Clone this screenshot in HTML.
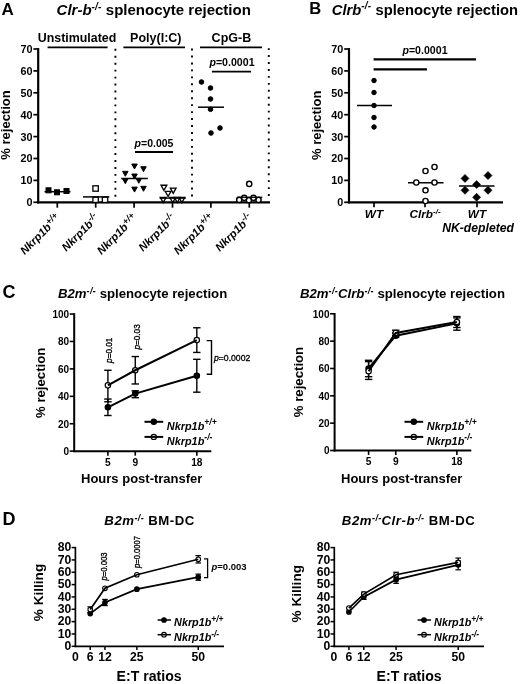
<!DOCTYPE html>
<html><head><meta charset="utf-8"><title>Figure</title>
<style>html,body{margin:0;padding:0;background:#fff;overflow:hidden}svg{display:block;will-change:transform}text{font-family:"Liberation Sans",sans-serif;fill:#000}</style>
</head><body>
<svg width="520" height="684" viewBox="0 0 520 684">
<rect width="520" height="684" fill="#fff"/>
<text x="1.6" y="15.3" font-size="17" font-weight="bold" text-anchor="start" >A</text>
<text x="56.6" y="15.4" font-size="15" font-weight="bold" text-anchor="start" ><tspan font-style="italic">Clr-b</tspan><tspan font-size="10" dy="-5.3" letter-spacing="0.2" font-style="italic">-/-</tspan><tspan dy="5.3" font-size="1">&#8203;</tspan><tspan> splenocyte rejection</tspan></text>
<text x="77" y="41.9" font-size="12.4" font-weight="bold" text-anchor="middle" >Unstimulated</text>
<text x="155.8" y="41.9" font-size="12.5" font-weight="bold" text-anchor="middle" >Poly(I:C)</text>
<text x="231.4" y="41.9" font-size="12.5" font-weight="bold" text-anchor="middle" >CpG-B</text>
<line x1="47.6" y1="47.45" x2="107.6" y2="47.45" stroke="#000" stroke-width="1.75" />
<line x1="123.4" y1="47.45" x2="185" y2="47.45" stroke="#000" stroke-width="1.75" />
<line x1="200" y1="47.45" x2="262" y2="47.45" stroke="#000" stroke-width="1.75" />
<line x1="115.4" y1="48.85" x2="115.4" y2="200" stroke="#000" stroke-width="1.9" stroke-dasharray="1.9 5.05"/>
<line x1="192" y1="48.6" x2="192" y2="200" stroke="#000" stroke-width="1.9" stroke-dasharray="1.9 5.05"/>
<line x1="268.8" y1="48.15" x2="268.8" y2="200" stroke="#000" stroke-width="1.9" stroke-dasharray="1.9 5.05"/>
<line x1="38.2" y1="48.10000000000003" x2="38.2" y2="203.4" stroke="#000" stroke-width="2.2" />
<line x1="37.1" y1="202.3" x2="270" y2="202.3" stroke="#000" stroke-width="2.2" />
<line x1="33.400000000000006" y1="202.3" x2="38.2" y2="202.3" stroke="#000" stroke-width="1.7" />
<text x="32.400000000000006" y="206.20000000000002" font-size="10.8" font-weight="bold" text-anchor="end" >0</text>
<line x1="33.400000000000006" y1="180.4" x2="38.2" y2="180.4" stroke="#000" stroke-width="1.7" />
<text x="32.400000000000006" y="184.3" font-size="10.8" font-weight="bold" text-anchor="end" >10</text>
<line x1="33.400000000000006" y1="158.5" x2="38.2" y2="158.5" stroke="#000" stroke-width="1.7" />
<text x="32.400000000000006" y="162.4" font-size="10.8" font-weight="bold" text-anchor="end" >20</text>
<line x1="33.400000000000006" y1="136.60000000000002" x2="38.2" y2="136.60000000000002" stroke="#000" stroke-width="1.7" />
<text x="32.400000000000006" y="140.50000000000003" font-size="10.8" font-weight="bold" text-anchor="end" >30</text>
<line x1="33.400000000000006" y1="114.70000000000002" x2="38.2" y2="114.70000000000002" stroke="#000" stroke-width="1.7" />
<text x="32.400000000000006" y="118.60000000000002" font-size="10.8" font-weight="bold" text-anchor="end" >40</text>
<line x1="33.400000000000006" y1="92.80000000000001" x2="38.2" y2="92.80000000000001" stroke="#000" stroke-width="1.7" />
<text x="32.400000000000006" y="96.70000000000002" font-size="10.8" font-weight="bold" text-anchor="end" >50</text>
<line x1="33.400000000000006" y1="70.9" x2="38.2" y2="70.9" stroke="#000" stroke-width="1.7" />
<text x="32.400000000000006" y="74.80000000000001" font-size="10.8" font-weight="bold" text-anchor="end" >60</text>
<line x1="33.400000000000006" y1="49.00000000000003" x2="38.2" y2="49.00000000000003" stroke="#000" stroke-width="1.7" />
<text x="32.400000000000006" y="52.90000000000003" font-size="10.8" font-weight="bold" text-anchor="end" >70</text>
<text x="9.8" y="125" font-size="13" font-weight="bold" text-anchor="middle" transform="rotate(-90 9.8 125)" >% rejection</text>
<line x1="57.3" y1="202.3" x2="57.3" y2="207.70000000000002" stroke="#000" stroke-width="1.7" />
<text x="61.099999999999994" y="218.8" font-size="11.2" font-weight="bold" font-style="italic" text-anchor="end" transform="rotate(-45 61.099999999999994 218.8)" >Nkrp1b<tspan font-size="9" dy="-4" letter-spacing="0" font-style="italic">+/+</tspan><tspan dy="4" font-size="1">&#8203;</tspan></text>
<line x1="95.69999999999999" y1="202.3" x2="95.69999999999999" y2="207.70000000000002" stroke="#000" stroke-width="1.7" />
<text x="99.49999999999999" y="218.8" font-size="11.2" font-weight="bold" font-style="italic" text-anchor="end" transform="rotate(-45 99.49999999999999 218.8)" >Nkrp1b<tspan font-size="9" dy="-4" letter-spacing="0" font-style="italic">-/-</tspan><tspan dy="4" font-size="1">&#8203;</tspan></text>
<line x1="134.1" y1="202.3" x2="134.1" y2="207.70000000000002" stroke="#000" stroke-width="1.7" />
<text x="137.9" y="218.8" font-size="11.2" font-weight="bold" font-style="italic" text-anchor="end" transform="rotate(-45 137.9 218.8)" >Nkrp1b<tspan font-size="9" dy="-4" letter-spacing="0" font-style="italic">+/+</tspan><tspan dy="4" font-size="1">&#8203;</tspan></text>
<line x1="172.5" y1="202.3" x2="172.5" y2="207.70000000000002" stroke="#000" stroke-width="1.7" />
<text x="176.3" y="218.8" font-size="11.2" font-weight="bold" font-style="italic" text-anchor="end" transform="rotate(-45 176.3 218.8)" >Nkrp1b<tspan font-size="9" dy="-4" letter-spacing="0" font-style="italic">-/-</tspan><tspan dy="4" font-size="1">&#8203;</tspan></text>
<line x1="210.89999999999998" y1="202.3" x2="210.89999999999998" y2="207.70000000000002" stroke="#000" stroke-width="1.7" />
<text x="214.7" y="218.8" font-size="11.2" font-weight="bold" font-style="italic" text-anchor="end" transform="rotate(-45 214.7 218.8)" >Nkrp1b<tspan font-size="9" dy="-4" letter-spacing="0" font-style="italic">+/+</tspan><tspan dy="4" font-size="1">&#8203;</tspan></text>
<line x1="249.3" y1="202.3" x2="249.3" y2="207.70000000000002" stroke="#000" stroke-width="1.7" />
<text x="253.10000000000002" y="218.8" font-size="11.2" font-weight="bold" font-style="italic" text-anchor="end" transform="rotate(-45 253.10000000000002 218.8)" >Nkrp1b<tspan font-size="9" dy="-4" letter-spacing="0" font-style="italic">-/-</tspan><tspan dy="4" font-size="1">&#8203;</tspan></text>
<rect x="46.00" y="187.80" width="5" height="5" fill="#000" stroke="#000" stroke-width="1"/>
<rect x="54.50" y="189.80" width="5" height="5" fill="#000" stroke="#000" stroke-width="1"/>
<rect x="64.00" y="188.50" width="5" height="5" fill="#000" stroke="#000" stroke-width="1"/>
<line x1="44.5" y1="191.7" x2="70.5" y2="191.7" stroke="#000" stroke-width="1.5" />
<rect x="92.90" y="185.80" width="5.4" height="5.4" fill="#fff" stroke="#000" stroke-width="1.3"/>
<rect x="92.90" y="197.10" width="5.4" height="5.4" fill="#fff" stroke="#000" stroke-width="1.3"/>
<rect x="102.30" y="197.10" width="5.4" height="5.4" fill="#fff" stroke="#000" stroke-width="1.3"/>
<line x1="83" y1="196.9" x2="109.3" y2="196.9" stroke="#000" stroke-width="1.5" />
<path d="M131.75 164.03L137.25 164.03L134.50 168.97Z" fill="#000" stroke="#000" stroke-width="1"/>
<path d="M140.75 166.72L146.25 166.72L143.50 171.67Z" fill="#000" stroke="#000" stroke-width="1"/>
<path d="M122.55 171.33L128.05 171.33L125.30 176.28Z" fill="#000" stroke="#000" stroke-width="1"/>
<path d="M131.75 174.03L137.25 174.03L134.50 178.97Z" fill="#000" stroke="#000" stroke-width="1"/>
<path d="M122.55 178.72L128.05 178.72L125.30 183.67Z" fill="#000" stroke="#000" stroke-width="1"/>
<path d="M136.05 178.33L141.55 178.33L138.80 183.28Z" fill="#000" stroke="#000" stroke-width="1"/>
<path d="M131.75 187.12L137.25 187.12L134.50 192.07Z" fill="#000" stroke="#000" stroke-width="1"/>
<path d="M140.75 186.33L146.25 186.33L143.50 191.28Z" fill="#000" stroke="#000" stroke-width="1"/>
<line x1="121.2" y1="178.5" x2="147.8" y2="178.5" stroke="#000" stroke-width="1.5" />
<path d="M161.05 185.24L166.75 185.24L163.90 190.37Z" fill="#fff" stroke="#000" stroke-width="1.35"/>
<path d="M170.35 188.13L176.05 188.13L173.20 193.26Z" fill="#fff" stroke="#000" stroke-width="1.35"/>
<path d="M165.25 191.34L170.95 191.34L168.10 196.47Z" fill="#fff" stroke="#000" stroke-width="1.35"/>
<path d="M160.35 197.53L166.05 197.53L163.20 202.66Z" fill="#fff" stroke="#000" stroke-width="1.35"/>
<path d="M169.85 197.53L175.55 197.53L172.70 202.66Z" fill="#fff" stroke="#000" stroke-width="1.35"/>
<path d="M174.45 197.53L180.15 197.53L177.30 202.66Z" fill="#fff" stroke="#000" stroke-width="1.35"/>
<path d="M179.05 197.53L184.75 197.53L181.90 202.66Z" fill="#fff" stroke="#000" stroke-width="1.35"/>
<line x1="159.6" y1="198.1" x2="185.8" y2="198.1" stroke="#000" stroke-width="1.4" />
<line x1="135" y1="152" x2="173" y2="152" stroke="#000" stroke-width="1.8" />
<text x="154" y="147" font-size="10.5" font-weight="bold" text-anchor="middle" ><tspan font-style="italic">p</tspan>=0.005</text>
<circle cx="201.5" cy="82" r="2.3" fill="#000" stroke="#000" stroke-width="1"/>
<circle cx="210.5" cy="88" r="2.3" fill="#000" stroke="#000" stroke-width="1"/>
<circle cx="210.5" cy="99" r="2.3" fill="#000" stroke="#000" stroke-width="1"/>
<circle cx="210.5" cy="109.3" r="2.3" fill="#000" stroke="#000" stroke-width="1"/>
<circle cx="211" cy="133" r="2.3" fill="#000" stroke="#000" stroke-width="1"/>
<circle cx="220" cy="128" r="2.3" fill="#000" stroke="#000" stroke-width="1"/>
<line x1="198" y1="107.2" x2="224" y2="107.2" stroke="#000" stroke-width="1.5" />
<circle cx="249.2" cy="183.9" r="2.6" fill="#fff" stroke="#000" stroke-width="1.45"/>
<circle cx="239.2" cy="199.9" r="2.6" fill="#fff" stroke="#000" stroke-width="1.45"/>
<circle cx="258.5" cy="199.9" r="2.6" fill="#fff" stroke="#000" stroke-width="1.45"/>
<circle cx="248.9" cy="200.2" r="2.6" fill="#fff" stroke="#000" stroke-width="1.45"/>
<circle cx="244.2" cy="197.8" r="2.6" fill="#fff" stroke="#000" stroke-width="1.45"/>
<circle cx="253.5" cy="197.8" r="2.6" fill="#fff" stroke="#000" stroke-width="1.45"/>
<line x1="236.9" y1="197.3" x2="262.3" y2="197.3" stroke="#000" stroke-width="1.3" />
<line x1="212" y1="71.6" x2="251" y2="71.6" stroke="#000" stroke-width="1.9" />
<text x="232" y="66.2" font-size="10.6" font-weight="bold" text-anchor="middle" ><tspan font-style="italic">p</tspan>=0.0001</text>
<text x="309.3" y="14.2" font-size="16.6" font-weight="bold" text-anchor="start" >B</text>
<text x="331.8" y="14.5" font-size="14.75" font-weight="bold" text-anchor="start" ><tspan font-style="italic">Clrb</tspan><tspan font-size="10" dy="-5.3" letter-spacing="0.2" font-style="italic">-/-</tspan><tspan dy="5.3" font-size="1">&#8203;</tspan><tspan> splenocyte rejection</tspan></text>
<line x1="349" y1="48.10000000000003" x2="349" y2="203.4" stroke="#000" stroke-width="2.2" />
<line x1="347.9" y1="202.3" x2="503" y2="202.3" stroke="#000" stroke-width="2.2" />
<line x1="344.2" y1="202.3" x2="349" y2="202.3" stroke="#000" stroke-width="1.7" />
<text x="343.2" y="206.20000000000002" font-size="10.8" font-weight="bold" text-anchor="end" >0</text>
<line x1="344.2" y1="180.4" x2="349" y2="180.4" stroke="#000" stroke-width="1.7" />
<text x="343.2" y="184.3" font-size="10.8" font-weight="bold" text-anchor="end" >10</text>
<line x1="344.2" y1="158.5" x2="349" y2="158.5" stroke="#000" stroke-width="1.7" />
<text x="343.2" y="162.4" font-size="10.8" font-weight="bold" text-anchor="end" >20</text>
<line x1="344.2" y1="136.60000000000002" x2="349" y2="136.60000000000002" stroke="#000" stroke-width="1.7" />
<text x="343.2" y="140.50000000000003" font-size="10.8" font-weight="bold" text-anchor="end" >30</text>
<line x1="344.2" y1="114.70000000000002" x2="349" y2="114.70000000000002" stroke="#000" stroke-width="1.7" />
<text x="343.2" y="118.60000000000002" font-size="10.8" font-weight="bold" text-anchor="end" >40</text>
<line x1="344.2" y1="92.80000000000001" x2="349" y2="92.80000000000001" stroke="#000" stroke-width="1.7" />
<text x="343.2" y="96.70000000000002" font-size="10.8" font-weight="bold" text-anchor="end" >50</text>
<line x1="344.2" y1="70.9" x2="349" y2="70.9" stroke="#000" stroke-width="1.7" />
<text x="343.2" y="74.80000000000001" font-size="10.8" font-weight="bold" text-anchor="end" >60</text>
<line x1="344.2" y1="49.00000000000003" x2="349" y2="49.00000000000003" stroke="#000" stroke-width="1.7" />
<text x="343.2" y="52.90000000000003" font-size="10.8" font-weight="bold" text-anchor="end" >70</text>
<text x="321" y="125.3" font-size="13" font-weight="bold" text-anchor="middle" transform="rotate(-90 321 125.3)" >% rejection</text>
<line x1="374" y1="202.3" x2="374" y2="207.3" stroke="#000" stroke-width="1.7" />
<text x="374" y="217.8" font-size="11.8" font-weight="bold" font-style="italic" text-anchor="middle" >WT</text>
<line x1="425" y1="202.3" x2="425" y2="207.3" stroke="#000" stroke-width="1.7" />
<text x="425" y="217.8" font-size="11.8" font-weight="bold" font-style="italic" text-anchor="middle" >Clrb<tspan font-size="8" dy="-4" letter-spacing="0" font-style="italic">-/-</tspan><tspan dy="4" font-size="1">&#8203;</tspan></text>
<line x1="477" y1="202.3" x2="477" y2="207.3" stroke="#000" stroke-width="1.7" />
<text x="477" y="217.8" font-size="11.8" font-weight="bold" font-style="italic" text-anchor="middle" >WT</text>
<text x="478.1" y="232.3" font-size="12.2" font-weight="bold" font-style="italic" text-anchor="middle" >NK-depleted</text>
<line x1="373.6" y1="59.4" x2="476" y2="59.4" stroke="#000" stroke-width="2.1" />
<line x1="373.6" y1="69.4" x2="427" y2="69.4" stroke="#000" stroke-width="2.1" />
<text x="425" y="53.6" font-size="10.6" font-weight="bold" text-anchor="middle" ><tspan font-style="italic">p</tspan>=0.0001</text>
<circle cx="374" cy="80.5" r="2.25" fill="#000" stroke="#000" stroke-width="1"/>
<circle cx="374" cy="92.5" r="2.25" fill="#000" stroke="#000" stroke-width="1"/>
<circle cx="374" cy="105.5" r="2.25" fill="#000" stroke="#000" stroke-width="1"/>
<circle cx="374" cy="117.5" r="2.25" fill="#000" stroke="#000" stroke-width="1"/>
<circle cx="374" cy="127" r="2.25" fill="#000" stroke="#000" stroke-width="1"/>
<line x1="357" y1="105.5" x2="392" y2="105.5" stroke="#000" stroke-width="1.5" />
<line x1="408" y1="182.7" x2="443.5" y2="182.7" stroke="#000" stroke-width="1.5" />
<circle cx="425.5" cy="171" r="2.6" fill="#fff" stroke="#000" stroke-width="1.4"/>
<circle cx="434.5" cy="167" r="2.6" fill="#fff" stroke="#000" stroke-width="1.4"/>
<circle cx="416.3" cy="182.5" r="2.6" fill="#fff" stroke="#000" stroke-width="1.4"/>
<circle cx="434.5" cy="182.5" r="2.6" fill="#fff" stroke="#000" stroke-width="1.4"/>
<circle cx="425.5" cy="190.3" r="2.6" fill="#fff" stroke="#000" stroke-width="1.4"/>
<circle cx="425.5" cy="201" r="2.6" fill="#fff" stroke="#000" stroke-width="1.4"/>
<path d="M461.0 178.4L465 174.4L469.0 178.4L465 182.4Z" fill="#000" stroke="#000" stroke-width="0.6"/>
<path d="M484.0 175.6L488 171.6L492.0 175.6L488 179.6Z" fill="#000" stroke="#000" stroke-width="0.6"/>
<path d="M472.6 184.6L476.6 180.6L480.6 184.6L476.6 188.6Z" fill="#000" stroke="#000" stroke-width="0.6"/>
<path d="M461.0 190.3L465 186.3L469.0 190.3L465 194.3Z" fill="#000" stroke="#000" stroke-width="0.6"/>
<path d="M484.0 190.3L488 186.3L492.0 190.3L488 194.3Z" fill="#000" stroke="#000" stroke-width="0.6"/>
<path d="M472.6 197.3L476.6 193.3L480.6 197.3L476.6 201.3Z" fill="#000" stroke="#000" stroke-width="0.6"/>
<line x1="459" y1="186" x2="494.5" y2="186" stroke="#000" stroke-width="1.5" />
<text x="2.4" y="298.2" font-size="18" font-weight="bold" text-anchor="start" >C</text>
<text x="142.6" y="297.7" font-size="13.2" font-weight="bold" text-anchor="middle" ><tspan font-style="italic">B2m</tspan><tspan font-size="9" dy="-4.2" letter-spacing="0.3" font-style="italic">-/-</tspan><tspan dy="4.2" font-size="1">&#8203;</tspan><tspan> splenocyte rejection</tspan></text>
<line x1="74.2" y1="313.24999999999994" x2="74.2" y2="452.15" stroke="#000" stroke-width="2" />
<line x1="73.2" y1="451.15" x2="211.3" y2="451.15" stroke="#000" stroke-width="2" />
<line x1="69.7" y1="451.15" x2="74.2" y2="451.15" stroke="#000" stroke-width="1.6" />
<text x="69.10000000000001" y="455.04999999999995" font-size="10" font-weight="bold" text-anchor="end" >0</text>
<line x1="69.7" y1="423.72999999999996" x2="74.2" y2="423.72999999999996" stroke="#000" stroke-width="1.6" />
<text x="69.10000000000001" y="427.62999999999994" font-size="10" font-weight="bold" text-anchor="end" >20</text>
<line x1="69.7" y1="396.30999999999995" x2="74.2" y2="396.30999999999995" stroke="#000" stroke-width="1.6" />
<text x="69.10000000000001" y="400.2099999999999" font-size="10" font-weight="bold" text-anchor="end" >40</text>
<line x1="69.7" y1="368.89" x2="74.2" y2="368.89" stroke="#000" stroke-width="1.6" />
<text x="69.10000000000001" y="372.78999999999996" font-size="10" font-weight="bold" text-anchor="end" >60</text>
<line x1="69.7" y1="341.46999999999997" x2="74.2" y2="341.46999999999997" stroke="#000" stroke-width="1.6" />
<text x="69.10000000000001" y="345.36999999999995" font-size="10" font-weight="bold" text-anchor="end" >80</text>
<line x1="69.7" y1="314.04999999999995" x2="74.2" y2="314.04999999999995" stroke="#000" stroke-width="1.6" />
<text x="69.10000000000001" y="317.94999999999993" font-size="10" font-weight="bold" text-anchor="end" >100</text>
<line x1="107.9" y1="451.15" x2="107.9" y2="455.65" stroke="#000" stroke-width="1.6" />
<text x="107.9" y="465.65" font-size="10.2" font-weight="bold" text-anchor="middle" >5</text>
<line x1="135.26" y1="451.15" x2="135.26" y2="455.65" stroke="#000" stroke-width="1.6" />
<text x="135.26" y="465.65" font-size="10.2" font-weight="bold" text-anchor="middle" >9</text>
<line x1="196.82" y1="451.15" x2="196.82" y2="455.65" stroke="#000" stroke-width="1.6" />
<text x="196.82" y="465.65" font-size="10.2" font-weight="bold" text-anchor="middle" >18</text>
<text x="44.6" y="382.8" font-size="13.2" font-weight="bold" text-anchor="middle" transform="rotate(-90 44.6 382.8)" >% rejection</text>
<text x="141.7" y="483" font-size="13" font-weight="bold" text-anchor="middle" >Hours post-transfer</text>
<line x1="107.9" y1="415.50399999999996" x2="107.9" y2="399.05199999999996" stroke="#000" stroke-width="1.4" />
<line x1="104.2" y1="415.50399999999996" x2="111.60000000000001" y2="415.50399999999996" stroke="#000" stroke-width="1.4" />
<line x1="104.2" y1="399.05199999999996" x2="111.60000000000001" y2="399.05199999999996" stroke="#000" stroke-width="1.4" />
<line x1="135.26" y1="397.681" x2="135.26" y2="390.82599999999996" stroke="#000" stroke-width="1.4" />
<line x1="131.56" y1="397.681" x2="138.95999999999998" y2="397.681" stroke="#000" stroke-width="1.4" />
<line x1="131.56" y1="390.82599999999996" x2="138.95999999999998" y2="390.82599999999996" stroke="#000" stroke-width="1.4" />
<line x1="196.82" y1="392.197" x2="196.82" y2="359.293" stroke="#000" stroke-width="1.4" />
<line x1="193.12" y1="392.197" x2="200.51999999999998" y2="392.197" stroke="#000" stroke-width="1.4" />
<line x1="193.12" y1="359.293" x2="200.51999999999998" y2="359.293" stroke="#000" stroke-width="1.4" />
<circle cx="107.9" cy="407.27799999999996" r="2.7" fill="#000" stroke="#000" stroke-width="1.2"/>
<circle cx="135.26" cy="393.568" r="2.7" fill="#000" stroke="#000" stroke-width="1.2"/>
<circle cx="196.82" cy="375.745" r="2.7" fill="#000" stroke="#000" stroke-width="1.2"/>
<polyline points="107.90,407.28 135.26,393.57 196.82,375.75" fill="none" stroke="#000" stroke-width="2"/>
<line x1="107.9" y1="401.794" x2="107.9" y2="370.26099999999997" stroke="#000" stroke-width="1.4" />
<line x1="104.2" y1="401.794" x2="111.60000000000001" y2="401.794" stroke="#000" stroke-width="1.4" />
<line x1="104.2" y1="370.26099999999997" x2="111.60000000000001" y2="370.26099999999997" stroke="#000" stroke-width="1.4" />
<line x1="135.26" y1="383.971" x2="135.26" y2="356.551" stroke="#000" stroke-width="1.4" />
<line x1="131.56" y1="383.971" x2="138.95999999999998" y2="383.971" stroke="#000" stroke-width="1.4" />
<line x1="131.56" y1="356.551" x2="138.95999999999998" y2="356.551" stroke="#000" stroke-width="1.4" />
<line x1="196.82" y1="352.438" x2="196.82" y2="327.76" stroke="#000" stroke-width="1.4" />
<line x1="193.12" y1="352.438" x2="200.51999999999998" y2="352.438" stroke="#000" stroke-width="1.4" />
<line x1="193.12" y1="327.76" x2="200.51999999999998" y2="327.76" stroke="#000" stroke-width="1.4" />
<circle cx="107.9" cy="385.342" r="2.7" fill="#fff" stroke="#000" stroke-width="1.2"/>
<circle cx="135.26" cy="370.26099999999997" r="2.7" fill="#fff" stroke="#000" stroke-width="1.2"/>
<circle cx="196.82" cy="340.099" r="2.7" fill="#fff" stroke="#000" stroke-width="1.2"/>
<polyline points="107.90,385.34 135.26,370.26 196.82,340.10" fill="none" stroke="#000" stroke-width="2"/>
<circle cx="153.8" cy="421.8" r="2.6" fill="#000" stroke="#000" stroke-width="1.2"/>
<line x1="144.5" y1="421.8" x2="163.2" y2="421.8" stroke="#000" stroke-width="2" />
<text x="166.8" y="429.8" font-size="10.9" font-weight="bold" font-style="italic" text-anchor="start" >Nkrp1b<tspan font-size="8.5" dy="-4.5" letter-spacing="0" font-style="italic">+/+</tspan><tspan dy="4.5" font-size="1">&#8203;</tspan></text>
<circle cx="153.8" cy="436.9" r="2.6" fill="#fff" stroke="#000" stroke-width="1.2"/>
<line x1="144.5" y1="436.9" x2="163.2" y2="436.9" stroke="#000" stroke-width="2" />
<text x="166.8" y="444.9" font-size="10.9" font-weight="bold" font-style="italic" text-anchor="start" >Nkrp1b<tspan font-size="8.5" dy="-4.5" letter-spacing="0" font-style="italic">-/-</tspan><tspan dy="4.5" font-size="1">&#8203;</tspan></text>
<text x="112.3" y="362.9" font-size="9.6" text-anchor="start" transform="rotate(-90 112.3 362.9)" stroke="#000" stroke-width="0.35" textLength="25.3" lengthAdjust="spacingAndGlyphs"><tspan font-style="italic">p</tspan>=0.01</text>
<text x="140.4" y="349.6" font-size="9.6" text-anchor="start" transform="rotate(-90 140.4 349.6)" stroke="#000" stroke-width="0.35" textLength="25.3" lengthAdjust="spacingAndGlyphs"><tspan font-style="italic">p</tspan>=0.03</text>
<path d="M206.7 340.6H211.5V374.2H206.7" fill="none" stroke="#000" stroke-width="1.4"/>
<text x="214" y="361.3" font-size="9.8" text-anchor="start" stroke="#000" stroke-width="0.35" textLength="36.3" lengthAdjust="spacingAndGlyphs"><tspan font-style="italic">p</tspan>=0.0002</text>
<text x="402.5" y="297.7" font-size="13.2" font-weight="bold" text-anchor="middle" ><tspan font-style="italic">B2m</tspan><tspan font-size="9" dy="-4.2" letter-spacing="0.3" font-style="italic">-/-</tspan><tspan dy="4.2" font-size="1">&#8203;</tspan><tspan font-style="italic">Clrb</tspan><tspan font-size="9" dy="-4.2" letter-spacing="0.3" font-style="italic">-/-</tspan><tspan dy="4.2" font-size="1">&#8203;</tspan><tspan> splenocyte rejection</tspan></text>
<line x1="334.6" y1="313.0" x2="334.6" y2="451.5" stroke="#000" stroke-width="2" />
<line x1="333.6" y1="450.5" x2="471.3" y2="450.5" stroke="#000" stroke-width="2" />
<line x1="330.1" y1="450.5" x2="334.6" y2="450.5" stroke="#000" stroke-width="1.6" />
<text x="329.5" y="454.4" font-size="10" font-weight="bold" text-anchor="end" >0</text>
<line x1="330.1" y1="423.16" x2="334.6" y2="423.16" stroke="#000" stroke-width="1.6" />
<text x="329.5" y="427.06" font-size="10" font-weight="bold" text-anchor="end" >20</text>
<line x1="330.1" y1="395.82" x2="334.6" y2="395.82" stroke="#000" stroke-width="1.6" />
<text x="329.5" y="399.71999999999997" font-size="10" font-weight="bold" text-anchor="end" >40</text>
<line x1="330.1" y1="368.48" x2="334.6" y2="368.48" stroke="#000" stroke-width="1.6" />
<text x="329.5" y="372.38" font-size="10" font-weight="bold" text-anchor="end" >60</text>
<line x1="330.1" y1="341.14" x2="334.6" y2="341.14" stroke="#000" stroke-width="1.6" />
<text x="329.5" y="345.03999999999996" font-size="10" font-weight="bold" text-anchor="end" >80</text>
<line x1="330.1" y1="313.8" x2="334.6" y2="313.8" stroke="#000" stroke-width="1.6" />
<text x="329.5" y="317.7" font-size="10" font-weight="bold" text-anchor="end" >100</text>
<line x1="368.59999999999997" y1="450.5" x2="368.59999999999997" y2="455.0" stroke="#000" stroke-width="1.6" />
<text x="368.59999999999997" y="465.0" font-size="10.2" font-weight="bold" text-anchor="middle" >5</text>
<line x1="395.76" y1="450.5" x2="395.76" y2="455.0" stroke="#000" stroke-width="1.6" />
<text x="395.76" y="465.0" font-size="10.2" font-weight="bold" text-anchor="middle" >9</text>
<line x1="456.87" y1="450.5" x2="456.87" y2="455.0" stroke="#000" stroke-width="1.6" />
<text x="456.87" y="465.0" font-size="10.2" font-weight="bold" text-anchor="middle" >18</text>
<text x="303.4" y="382" font-size="13.2" font-weight="bold" text-anchor="middle" transform="rotate(-90 303.4 382)" >% rejection</text>
<text x="401.7" y="483" font-size="13" font-weight="bold" text-anchor="middle" >Hours post-transfer</text>
<line x1="368.59999999999997" y1="379.416" x2="368.59999999999997" y2="360.278" stroke="#000" stroke-width="1.4" />
<line x1="364.9" y1="379.416" x2="372.29999999999995" y2="379.416" stroke="#000" stroke-width="1.4" />
<line x1="364.9" y1="360.278" x2="372.29999999999995" y2="360.278" stroke="#000" stroke-width="1.4" />
<line x1="395.76" y1="337.039" x2="395.76" y2="332.938" stroke="#000" stroke-width="1.4" />
<line x1="392.06" y1="337.039" x2="399.46" y2="337.039" stroke="#000" stroke-width="1.4" />
<line x1="392.06" y1="332.938" x2="399.46" y2="332.938" stroke="#000" stroke-width="1.4" />
<line x1="456.87" y1="330.204" x2="456.87" y2="317.901" stroke="#000" stroke-width="1.4" />
<line x1="453.17" y1="330.204" x2="460.57" y2="330.204" stroke="#000" stroke-width="1.4" />
<line x1="453.17" y1="317.901" x2="460.57" y2="317.901" stroke="#000" stroke-width="1.4" />
<circle cx="368.59999999999997" cy="368.48" r="2.7" fill="#000" stroke="#000" stroke-width="1.2"/>
<circle cx="395.76" cy="335.672" r="2.7" fill="#000" stroke="#000" stroke-width="1.2"/>
<circle cx="456.87" cy="323.369" r="2.7" fill="#000" stroke="#000" stroke-width="1.2"/>
<polyline points="368.60,368.48 395.76,335.67 456.87,323.37" fill="none" stroke="#000" stroke-width="2"/>
<line x1="368.59999999999997" y1="376.682" x2="368.59999999999997" y2="361.645" stroke="#000" stroke-width="1.4" />
<line x1="364.9" y1="376.682" x2="372.29999999999995" y2="376.682" stroke="#000" stroke-width="1.4" />
<line x1="364.9" y1="361.645" x2="372.29999999999995" y2="361.645" stroke="#000" stroke-width="1.4" />
<line x1="395.76" y1="335.672" x2="395.76" y2="330.204" stroke="#000" stroke-width="1.4" />
<line x1="392.06" y1="335.672" x2="399.46" y2="335.672" stroke="#000" stroke-width="1.4" />
<line x1="392.06" y1="330.204" x2="399.46" y2="330.204" stroke="#000" stroke-width="1.4" />
<line x1="456.87" y1="327.47" x2="456.87" y2="316.534" stroke="#000" stroke-width="1.4" />
<line x1="453.17" y1="327.47" x2="460.57" y2="327.47" stroke="#000" stroke-width="1.4" />
<line x1="453.17" y1="316.534" x2="460.57" y2="316.534" stroke="#000" stroke-width="1.4" />
<circle cx="368.59999999999997" cy="371.214" r="2.7" fill="#fff" stroke="#000" stroke-width="1.2"/>
<circle cx="395.76" cy="332.938" r="2.7" fill="#fff" stroke="#000" stroke-width="1.2"/>
<circle cx="456.87" cy="322.002" r="2.7" fill="#fff" stroke="#000" stroke-width="1.2"/>
<polyline points="368.60,371.21 395.76,332.94 456.87,322.00" fill="none" stroke="#000" stroke-width="2"/>
<circle cx="413.8" cy="421.8" r="2.6" fill="#000" stroke="#000" stroke-width="1.2"/>
<line x1="404.5" y1="421.8" x2="423.2" y2="421.8" stroke="#000" stroke-width="2" />
<text x="426.8" y="429.8" font-size="10.9" font-weight="bold" font-style="italic" text-anchor="start" >Nkrp1b<tspan font-size="8.5" dy="-4.5" letter-spacing="0" font-style="italic">+/+</tspan><tspan dy="4.5" font-size="1">&#8203;</tspan></text>
<circle cx="413.8" cy="436.9" r="2.6" fill="#fff" stroke="#000" stroke-width="1.2"/>
<line x1="404.5" y1="436.9" x2="423.2" y2="436.9" stroke="#000" stroke-width="2" />
<text x="426.8" y="444.9" font-size="10.9" font-weight="bold" font-style="italic" text-anchor="start" >Nkrp1b<tspan font-size="8.5" dy="-4.5" letter-spacing="0" font-style="italic">-/-</tspan><tspan dy="4.5" font-size="1">&#8203;</tspan></text>
<text x="2.4" y="525.1" font-size="18" font-weight="bold" text-anchor="start" >D</text>
<text x="149.6" y="525.3" font-size="13.2" font-weight="bold" text-anchor="middle" letter-spacing="0.55"><tspan font-style="italic">B2m</tspan><tspan font-size="9" dy="-4.2" letter-spacing="0.3" font-style="italic">-/-</tspan><tspan dy="4.2" font-size="1">&#8203;</tspan><tspan> BM-DC</tspan></text>
<line x1="75.4" y1="546.8799999999999" x2="75.4" y2="647.15" stroke="#000" stroke-width="1.7" />
<line x1="74.55000000000001" y1="646.3" x2="224" y2="646.3" stroke="#000" stroke-width="1.7" />
<line x1="71.60000000000001" y1="646.3" x2="75.4" y2="646.3" stroke="#000" stroke-width="1.5" />
<text x="71.4" y="649.9" font-size="12.2" font-weight="bold" text-anchor="end" >0</text>
<line x1="71.60000000000001" y1="633.9599999999999" x2="75.4" y2="633.9599999999999" stroke="#000" stroke-width="1.5" />
<text x="71.4" y="637.56" font-size="12.2" font-weight="bold" text-anchor="end" >10</text>
<line x1="71.60000000000001" y1="621.62" x2="75.4" y2="621.62" stroke="#000" stroke-width="1.5" />
<text x="71.4" y="625.22" font-size="12.2" font-weight="bold" text-anchor="end" >20</text>
<line x1="71.60000000000001" y1="609.28" x2="75.4" y2="609.28" stroke="#000" stroke-width="1.5" />
<text x="71.4" y="612.88" font-size="12.2" font-weight="bold" text-anchor="end" >30</text>
<line x1="71.60000000000001" y1="596.9399999999999" x2="75.4" y2="596.9399999999999" stroke="#000" stroke-width="1.5" />
<text x="71.4" y="600.54" font-size="12.2" font-weight="bold" text-anchor="end" >40</text>
<line x1="71.60000000000001" y1="584.5999999999999" x2="75.4" y2="584.5999999999999" stroke="#000" stroke-width="1.5" />
<text x="71.4" y="588.1999999999999" font-size="12.2" font-weight="bold" text-anchor="end" >50</text>
<line x1="71.60000000000001" y1="572.26" x2="75.4" y2="572.26" stroke="#000" stroke-width="1.5" />
<text x="71.4" y="575.86" font-size="12.2" font-weight="bold" text-anchor="end" >60</text>
<line x1="71.60000000000001" y1="559.92" x2="75.4" y2="559.92" stroke="#000" stroke-width="1.5" />
<text x="71.4" y="563.52" font-size="12.2" font-weight="bold" text-anchor="end" >70</text>
<line x1="71.60000000000001" y1="547.5799999999999" x2="75.4" y2="547.5799999999999" stroke="#000" stroke-width="1.5" />
<text x="71.4" y="551.18" font-size="12.2" font-weight="bold" text-anchor="end" >80</text>
<text x="75.5" y="661.0" font-size="12.2" font-weight="bold" text-anchor="middle" >0</text>
<line x1="90.23" y1="646.3" x2="90.23" y2="650.0999999999999" stroke="#000" stroke-width="1.5" />
<text x="90.23" y="661.0" font-size="12.2" font-weight="bold" text-anchor="middle" >6</text>
<line x1="104.96000000000001" y1="646.3" x2="104.96000000000001" y2="650.0999999999999" stroke="#000" stroke-width="1.5" />
<text x="104.96000000000001" y="661.0" font-size="12.2" font-weight="bold" text-anchor="middle" >12</text>
<line x1="136.875" y1="646.3" x2="136.875" y2="650.0999999999999" stroke="#000" stroke-width="1.5" />
<text x="136.875" y="661.0" font-size="12.2" font-weight="bold" text-anchor="middle" >25</text>
<line x1="198.25" y1="646.3" x2="198.25" y2="650.0999999999999" stroke="#000" stroke-width="1.5" />
<text x="198.25" y="661.0" font-size="12.2" font-weight="bold" text-anchor="middle" >50</text>
<text x="43.3" y="592.5" font-size="13.6" font-weight="bold" text-anchor="middle" transform="rotate(-90 43.3 592.5)" >% Killing</text>
<text x="149.1" y="681" font-size="14.1" font-weight="bold" text-anchor="middle" >E:T ratios</text>
<line x1="104.96000000000001" y1="605.578" x2="104.96000000000001" y2="599.4079999999999" stroke="#000" stroke-width="1.2" />
<line x1="102.16000000000001" y1="605.578" x2="107.76" y2="605.578" stroke="#000" stroke-width="1.2" />
<line x1="102.16000000000001" y1="599.4079999999999" x2="107.76" y2="599.4079999999999" stroke="#000" stroke-width="1.2" />
<line x1="198.25" y1="580.281" x2="198.25" y2="574.111" stroke="#000" stroke-width="1.2" />
<line x1="195.45" y1="580.281" x2="201.05" y2="580.281" stroke="#000" stroke-width="1.2" />
<line x1="195.45" y1="574.111" x2="201.05" y2="574.111" stroke="#000" stroke-width="1.2" />
<circle cx="90.23" cy="613.5989999999999" r="2.3" fill="#000" stroke="#000" stroke-width="1.1"/>
<circle cx="104.96000000000001" cy="602.4929999999999" r="2.3" fill="#000" stroke="#000" stroke-width="1.1"/>
<circle cx="136.875" cy="589.1658" r="2.3" fill="#000" stroke="#000" stroke-width="1.1"/>
<circle cx="198.25" cy="577.1959999999999" r="2.3" fill="#000" stroke="#000" stroke-width="1.1"/>
<polyline points="90.23,613.60 104.96,602.49 136.88,589.17 198.25,577.20" fill="none" stroke="#000" stroke-width="1.7"/>
<line x1="90.23" y1="612.365" x2="90.23" y2="606.8119999999999" stroke="#000" stroke-width="1.2" />
<line x1="87.43" y1="612.365" x2="93.03" y2="612.365" stroke="#000" stroke-width="1.2" />
<line x1="87.43" y1="606.8119999999999" x2="93.03" y2="606.8119999999999" stroke="#000" stroke-width="1.2" />
<line x1="198.25" y1="563.005" x2="198.25" y2="555.601" stroke="#000" stroke-width="1.2" />
<line x1="195.45" y1="563.005" x2="201.05" y2="563.005" stroke="#000" stroke-width="1.2" />
<line x1="195.45" y1="555.601" x2="201.05" y2="555.601" stroke="#000" stroke-width="1.2" />
<circle cx="90.23" cy="609.5268" r="2.3" fill="#fff" stroke="#000" stroke-width="1.1"/>
<circle cx="104.96000000000001" cy="588.3019999999999" r="2.3" fill="#fff" stroke="#000" stroke-width="1.1"/>
<circle cx="136.875" cy="574.728" r="2.3" fill="#fff" stroke="#000" stroke-width="1.1"/>
<circle cx="198.25" cy="559.303" r="2.3" fill="#fff" stroke="#000" stroke-width="1.1"/>
<polyline points="90.23,609.53 104.96,588.30 136.88,574.73 198.25,559.30" fill="none" stroke="#000" stroke-width="1.7"/>
<circle cx="164" cy="620" r="2.3" fill="#000" stroke="#000" stroke-width="1.1"/>
<line x1="157.6" y1="620" x2="171" y2="620" stroke="#000" stroke-width="1.5" />
<text x="174.1" y="626.1" font-size="10.8" font-weight="bold" font-style="italic" text-anchor="start" >Nkrp1b<tspan font-size="8.3" dy="-4.2" letter-spacing="0" font-style="italic">+/+</tspan><tspan dy="4.2" font-size="1">&#8203;</tspan></text>
<circle cx="164" cy="634.7" r="2.3" fill="#fff" stroke="#000" stroke-width="1.1"/>
<line x1="157.6" y1="634.7" x2="171" y2="634.7" stroke="#000" stroke-width="1.5" />
<text x="174.1" y="640.8000000000001" font-size="10.8" font-weight="bold" font-style="italic" text-anchor="start" >Nkrp1b<tspan font-size="8.3" dy="-4.2" letter-spacing="0" font-style="italic">-/-</tspan><tspan dy="4.2" font-size="1">&#8203;</tspan></text>
<text x="106.9" y="580.6" font-size="9.2" text-anchor="start" transform="rotate(-90 106.9 580.6)" stroke="#000" stroke-width="0.35" textLength="28.2" lengthAdjust="spacingAndGlyphs"><tspan font-style="italic">p</tspan>=0.003</text>
<text x="139.6" y="568" font-size="9.2" text-anchor="start" transform="rotate(-90 139.6 568)" stroke="#000" stroke-width="0.35" textLength="31.9" lengthAdjust="spacingAndGlyphs"><tspan font-style="italic">p</tspan>=0.0007</text>
<path d="M204 558.8H207.6V577.7H204" fill="none" stroke="#000" stroke-width="1.3"/>
<text x="211.5" y="569.8" font-size="9.5" font-weight="bold" text-anchor="start" ><tspan font-style="italic">p</tspan>=0.003</text>
<text x="408.6" y="525.3" font-size="13.2" font-weight="bold" text-anchor="middle" letter-spacing="0.55"><tspan font-style="italic">B2m</tspan><tspan font-size="9" dy="-4.2" letter-spacing="0.3" font-style="italic">-/-</tspan><tspan dy="4.2" font-size="1">&#8203;</tspan><tspan font-style="italic">Clr-b</tspan><tspan font-size="9" dy="-4.2" letter-spacing="0.3" font-style="italic">-/-</tspan><tspan dy="4.2" font-size="1">&#8203;</tspan><tspan> BM-DC</tspan></text>
<line x1="334.3" y1="546.8799999999999" x2="334.3" y2="647.15" stroke="#000" stroke-width="1.7" />
<line x1="333.45" y1="646.3" x2="484" y2="646.3" stroke="#000" stroke-width="1.7" />
<line x1="330.5" y1="646.3" x2="334.3" y2="646.3" stroke="#000" stroke-width="1.5" />
<text x="330.3" y="649.9" font-size="12.2" font-weight="bold" text-anchor="end" >0</text>
<line x1="330.5" y1="633.9599999999999" x2="334.3" y2="633.9599999999999" stroke="#000" stroke-width="1.5" />
<text x="330.3" y="637.56" font-size="12.2" font-weight="bold" text-anchor="end" >10</text>
<line x1="330.5" y1="621.62" x2="334.3" y2="621.62" stroke="#000" stroke-width="1.5" />
<text x="330.3" y="625.22" font-size="12.2" font-weight="bold" text-anchor="end" >20</text>
<line x1="330.5" y1="609.28" x2="334.3" y2="609.28" stroke="#000" stroke-width="1.5" />
<text x="330.3" y="612.88" font-size="12.2" font-weight="bold" text-anchor="end" >30</text>
<line x1="330.5" y1="596.9399999999999" x2="334.3" y2="596.9399999999999" stroke="#000" stroke-width="1.5" />
<text x="330.3" y="600.54" font-size="12.2" font-weight="bold" text-anchor="end" >40</text>
<line x1="330.5" y1="584.5999999999999" x2="334.3" y2="584.5999999999999" stroke="#000" stroke-width="1.5" />
<text x="330.3" y="588.1999999999999" font-size="12.2" font-weight="bold" text-anchor="end" >50</text>
<line x1="330.5" y1="572.26" x2="334.3" y2="572.26" stroke="#000" stroke-width="1.5" />
<text x="330.3" y="575.86" font-size="12.2" font-weight="bold" text-anchor="end" >60</text>
<line x1="330.5" y1="559.92" x2="334.3" y2="559.92" stroke="#000" stroke-width="1.5" />
<text x="330.3" y="563.52" font-size="12.2" font-weight="bold" text-anchor="end" >70</text>
<line x1="330.5" y1="547.5799999999999" x2="334.3" y2="547.5799999999999" stroke="#000" stroke-width="1.5" />
<text x="330.3" y="551.18" font-size="12.2" font-weight="bold" text-anchor="end" >80</text>
<text x="334.0" y="661.0" font-size="12.2" font-weight="bold" text-anchor="middle" >0</text>
<line x1="348.904" y1="646.3" x2="348.904" y2="650.0999999999999" stroke="#000" stroke-width="1.5" />
<text x="348.904" y="661.0" font-size="12.2" font-weight="bold" text-anchor="middle" >6</text>
<line x1="363.808" y1="646.3" x2="363.808" y2="650.0999999999999" stroke="#000" stroke-width="1.5" />
<text x="363.808" y="661.0" font-size="12.2" font-weight="bold" text-anchor="middle" >12</text>
<line x1="396.1" y1="646.3" x2="396.1" y2="650.0999999999999" stroke="#000" stroke-width="1.5" />
<text x="396.1" y="661.0" font-size="12.2" font-weight="bold" text-anchor="middle" >25</text>
<line x1="458.2" y1="646.3" x2="458.2" y2="650.0999999999999" stroke="#000" stroke-width="1.5" />
<text x="458.2" y="661.0" font-size="12.2" font-weight="bold" text-anchor="middle" >50</text>
<text x="300.8" y="593.7" font-size="13.6" font-weight="bold" text-anchor="middle" transform="rotate(-90 300.8 593.7)" >% Killing</text>
<text x="409.1" y="681" font-size="14.1" font-weight="bold" text-anchor="middle" >E:T ratios</text>
<line x1="363.808" y1="599.4079999999999" x2="363.808" y2="594.472" stroke="#000" stroke-width="1.2" />
<line x1="361.008" y1="599.4079999999999" x2="366.608" y2="599.4079999999999" stroke="#000" stroke-width="1.2" />
<line x1="361.008" y1="594.472" x2="366.608" y2="594.472" stroke="#000" stroke-width="1.2" />
<line x1="396.1" y1="583.366" x2="396.1" y2="575.962" stroke="#000" stroke-width="1.2" />
<line x1="393.3" y1="583.366" x2="398.90000000000003" y2="583.366" stroke="#000" stroke-width="1.2" />
<line x1="393.3" y1="575.962" x2="398.90000000000003" y2="575.962" stroke="#000" stroke-width="1.2" />
<line x1="458.2" y1="569.7919999999999" x2="458.2" y2="561.154" stroke="#000" stroke-width="1.2" />
<line x1="455.4" y1="569.7919999999999" x2="461.0" y2="569.7919999999999" stroke="#000" stroke-width="1.2" />
<line x1="455.4" y1="561.154" x2="461.0" y2="561.154" stroke="#000" stroke-width="1.2" />
<circle cx="348.904" cy="611.9947999999999" r="2.3" fill="#000" stroke="#000" stroke-width="1.1"/>
<circle cx="363.808" cy="596.9399999999999" r="2.3" fill="#000" stroke="#000" stroke-width="1.1"/>
<circle cx="396.1" cy="579.664" r="2.3" fill="#000" stroke="#000" stroke-width="1.1"/>
<circle cx="458.2" cy="564.856" r="2.3" fill="#000" stroke="#000" stroke-width="1.1"/>
<polyline points="348.90,611.99 363.81,596.94 396.10,579.66 458.20,564.86" fill="none" stroke="#000" stroke-width="1.7"/>
<line x1="363.808" y1="595.7059999999999" x2="363.808" y2="592.0039999999999" stroke="#000" stroke-width="1.2" />
<line x1="361.008" y1="595.7059999999999" x2="366.608" y2="595.7059999999999" stroke="#000" stroke-width="1.2" />
<line x1="361.008" y1="592.0039999999999" x2="366.608" y2="592.0039999999999" stroke="#000" stroke-width="1.2" />
<line x1="396.1" y1="577.1959999999999" x2="396.1" y2="572.26" stroke="#000" stroke-width="1.2" />
<line x1="393.3" y1="577.1959999999999" x2="398.90000000000003" y2="577.1959999999999" stroke="#000" stroke-width="1.2" />
<line x1="393.3" y1="572.26" x2="398.90000000000003" y2="572.26" stroke="#000" stroke-width="1.2" />
<line x1="458.2" y1="566.0899999999999" x2="458.2" y2="558.069" stroke="#000" stroke-width="1.2" />
<line x1="455.4" y1="566.0899999999999" x2="461.0" y2="566.0899999999999" stroke="#000" stroke-width="1.2" />
<line x1="455.4" y1="558.069" x2="461.0" y2="558.069" stroke="#000" stroke-width="1.2" />
<circle cx="348.904" cy="608.0459999999999" r="2.3" fill="#fff" stroke="#000" stroke-width="1.1"/>
<circle cx="363.808" cy="594.1017999999999" r="2.3" fill="#fff" stroke="#000" stroke-width="1.1"/>
<circle cx="396.1" cy="574.728" r="2.3" fill="#fff" stroke="#000" stroke-width="1.1"/>
<circle cx="458.2" cy="562.3879999999999" r="2.3" fill="#fff" stroke="#000" stroke-width="1.1"/>
<polyline points="348.90,608.05 363.81,594.10 396.10,574.73 458.20,562.39" fill="none" stroke="#000" stroke-width="1.7"/>
<circle cx="424" cy="620" r="2.3" fill="#000" stroke="#000" stroke-width="1.1"/>
<line x1="417.6" y1="620" x2="431" y2="620" stroke="#000" stroke-width="1.5" />
<text x="434.1" y="626.1" font-size="10.8" font-weight="bold" font-style="italic" text-anchor="start" >Nkrp1b<tspan font-size="8.3" dy="-4.2" letter-spacing="0" font-style="italic">+/+</tspan><tspan dy="4.2" font-size="1">&#8203;</tspan></text>
<circle cx="424" cy="634.7" r="2.3" fill="#fff" stroke="#000" stroke-width="1.1"/>
<line x1="417.6" y1="634.7" x2="431" y2="634.7" stroke="#000" stroke-width="1.5" />
<text x="434.1" y="640.8000000000001" font-size="10.8" font-weight="bold" font-style="italic" text-anchor="start" >Nkrp1b<tspan font-size="8.3" dy="-4.2" letter-spacing="0" font-style="italic">-/-</tspan><tspan dy="4.2" font-size="1">&#8203;</tspan></text>
</svg>
</body></html>
